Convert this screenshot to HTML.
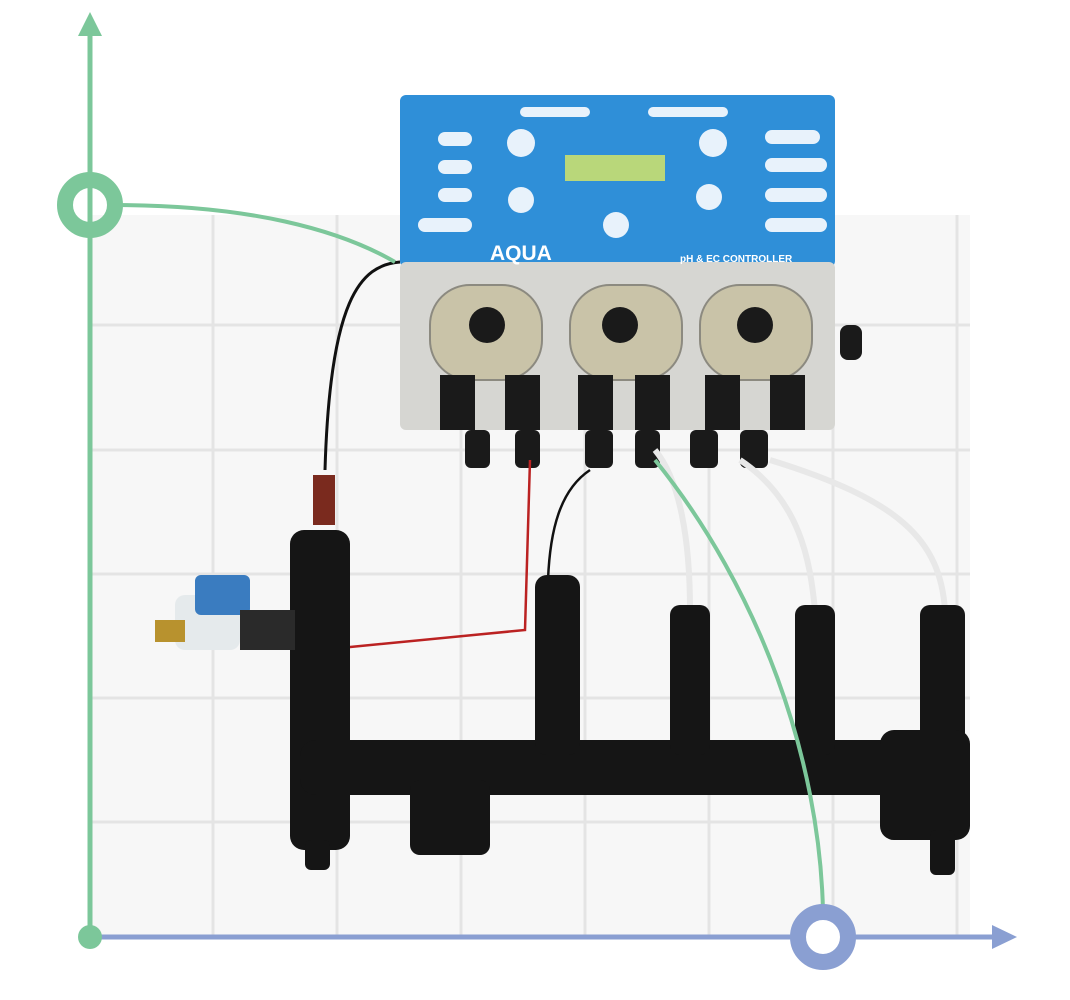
<!DOCTYPE html>
<html><head><style>body{margin:0;background:#fff}svg{display:block}</style></head><body>
<svg width="1070" height="1000" viewBox="0 0 1070 1000" xmlns="http://www.w3.org/2000/svg" font-family="Liberation Sans, sans-serif">
<rect width="1070" height="1000" fill="#fff"/>
<rect x="90" y="215" width="880" height="720" fill="#f7f7f7"/>
<g stroke="#e4e4e4" stroke-width="3">
<line x1="213" y1="215" x2="213" y2="935"/><line x1="337" y1="215" x2="337" y2="935"/><line x1="461" y1="215" x2="461" y2="935"/><line x1="585" y1="215" x2="585" y2="935"/><line x1="709" y1="215" x2="709" y2="935"/><line x1="833" y1="215" x2="833" y2="935"/><line x1="957" y1="215" x2="957" y2="935"/>
<line x1="90" y1="325" x2="970" y2="325"/><line x1="90" y1="450" x2="970" y2="450"/><line x1="90" y1="574" x2="970" y2="574"/><line x1="90" y1="698" x2="970" y2="698"/><line x1="90" y1="822" x2="970" y2="822"/>
</g>
<!-- axes -->
<line x1="90" y1="937" x2="90" y2="30" stroke="#7cc79a" stroke-width="5"/>
<polygon points="90,12 78,36 102,36" fill="#7cc79a"/>
<line x1="90" y1="937" x2="995" y2="937" stroke="#8a9fd2" stroke-width="5"/>
<polygon points="1017,937 992,925 992,949" fill="#8a9fd2"/>
<circle cx="90" cy="937" r="12" fill="#7cc79a"/>
<!-- controller -->
<rect x="400" y="95" width="435" height="172" rx="6" fill="#2f8fd8"/>
<rect x="400" y="262" width="435" height="168" rx="6" fill="#d6d6d2"/>
<rect x="565" y="155" width="100" height="26" fill="#b9d77a"/>
<g fill="#e8f2fb">
<rect x="520" y="107" width="70" height="10" rx="5"/><rect x="648" y="107" width="80" height="10" rx="5"/>
<rect x="438" y="132" width="34" height="14" rx="7"/><rect x="438" y="160" width="34" height="14" rx="7"/><rect x="438" y="188" width="34" height="14" rx="7"/><rect x="418" y="218" width="54" height="14" rx="7"/>
<rect x="765" y="130" width="55" height="14" rx="7"/><rect x="765" y="158" width="62" height="14" rx="7"/><rect x="765" y="188" width="62" height="14" rx="7"/><rect x="765" y="218" width="62" height="14" rx="7"/>
<circle cx="521" cy="143" r="14"/><circle cx="713" cy="143" r="14"/><circle cx="521" cy="200" r="13"/><circle cx="709" cy="197" r="13"/><circle cx="616" cy="225" r="13"/>
</g>
<text x="490" y="260" fill="#fff" font-size="21" font-weight="bold">AQUA</text>
<text x="680" y="262" fill="#fff" font-size="10" font-weight="bold">pH &amp; EC CONTROLLER</text>
<!-- pumps -->
<g fill="#c9c3a8" stroke="#8c8a80" stroke-width="2">
<rect x="430" y="285" width="112" height="95" rx="40"/><rect x="570" y="285" width="112" height="95" rx="40"/><rect x="700" y="285" width="112" height="95" rx="40"/>
</g>
<g fill="#1a1a1a"><circle cx="487" cy="325" r="18"/><circle cx="620" cy="325" r="18"/><circle cx="755" cy="325" r="18"/>
<rect x="840" y="325" width="22" height="35" rx="8"/>
<rect x="440" y="375" width="35" height="55"/><rect x="505" y="375" width="35" height="55"/><rect x="578" y="375" width="35" height="55"/><rect x="635" y="375" width="35" height="55"/><rect x="705" y="375" width="35" height="55"/><rect x="770" y="375" width="35" height="55"/>
<rect x="465" y="430" width="25" height="38" rx="6"/><rect x="515" y="430" width="25" height="38" rx="6"/><rect x="585" y="430" width="28" height="38" rx="6"/><rect x="635" y="430" width="25" height="38" rx="6"/><rect x="690" y="430" width="28" height="38" rx="6"/><rect x="740" y="430" width="28" height="38" rx="6"/>
</g>
<!-- wires/tubes -->
<path d="M400 262 C360 265 330 300 325 470" stroke="#111" stroke-width="3" fill="none"/>
<rect x="313" y="475" width="22" height="50" fill="#7a2a1e"/>
<path d="M530 460 L525 630 L340 648" stroke="#b22" stroke-width="2.5" fill="none"/>
<path d="M590 470 C560 490 550 530 548 580" stroke="#111" stroke-width="2.5" fill="none"/>
<g stroke="#e8e8e8" stroke-width="6" fill="none">
<path d="M655 450 C680 480 690 540 690 610"/><path d="M740 460 C800 500 810 560 815 610"/><path d="M770 460 C900 500 940 540 945 610"/>
</g>
<!-- manifold -->
<g fill="#151515">
<rect x="290" y="530" width="60" height="320" rx="14"/>
<rect x="300" y="740" width="670" height="55" rx="16"/>
<rect x="410" y="780" width="80" height="75" rx="10"/>
<rect x="535" y="575" width="45" height="180" rx="12"/>
<rect x="670" y="605" width="40" height="150" rx="10"/>
<rect x="795" y="605" width="40" height="150" rx="10"/>
<rect x="920" y="605" width="45" height="150" rx="10"/>
<rect x="880" y="730" width="90" height="110" rx="14"/>
<rect x="930" y="830" width="25" height="45" rx="6"/>
<rect x="305" y="840" width="25" height="30" rx="6"/>
</g>
<rect x="175" y="595" width="65" height="55" rx="10" fill="#e5eaec"/>
<rect x="195" y="575" width="55" height="40" rx="6" fill="#3a7cc0"/>
<rect x="155" y="620" width="30" height="22" fill="#b8922e"/>
<rect x="240" y="610" width="55" height="40" fill="#2a2a2a"/>
<!-- green curve -->
<path d="M115 205 C250 205 340 230 395 262" stroke="#7cc79a" stroke-width="4" fill="none"/>
<path d="M655 460 C760 590 820 760 823 912" stroke="#7cc79a" stroke-width="4" fill="none"/>
<circle cx="90" cy="205" r="25" fill="none" stroke="#7cc79a" stroke-width="16"/>
<circle cx="823" cy="937" r="25" fill="#fff" stroke="#8a9fd2" stroke-width="16"/>
</svg>
</body></html>
